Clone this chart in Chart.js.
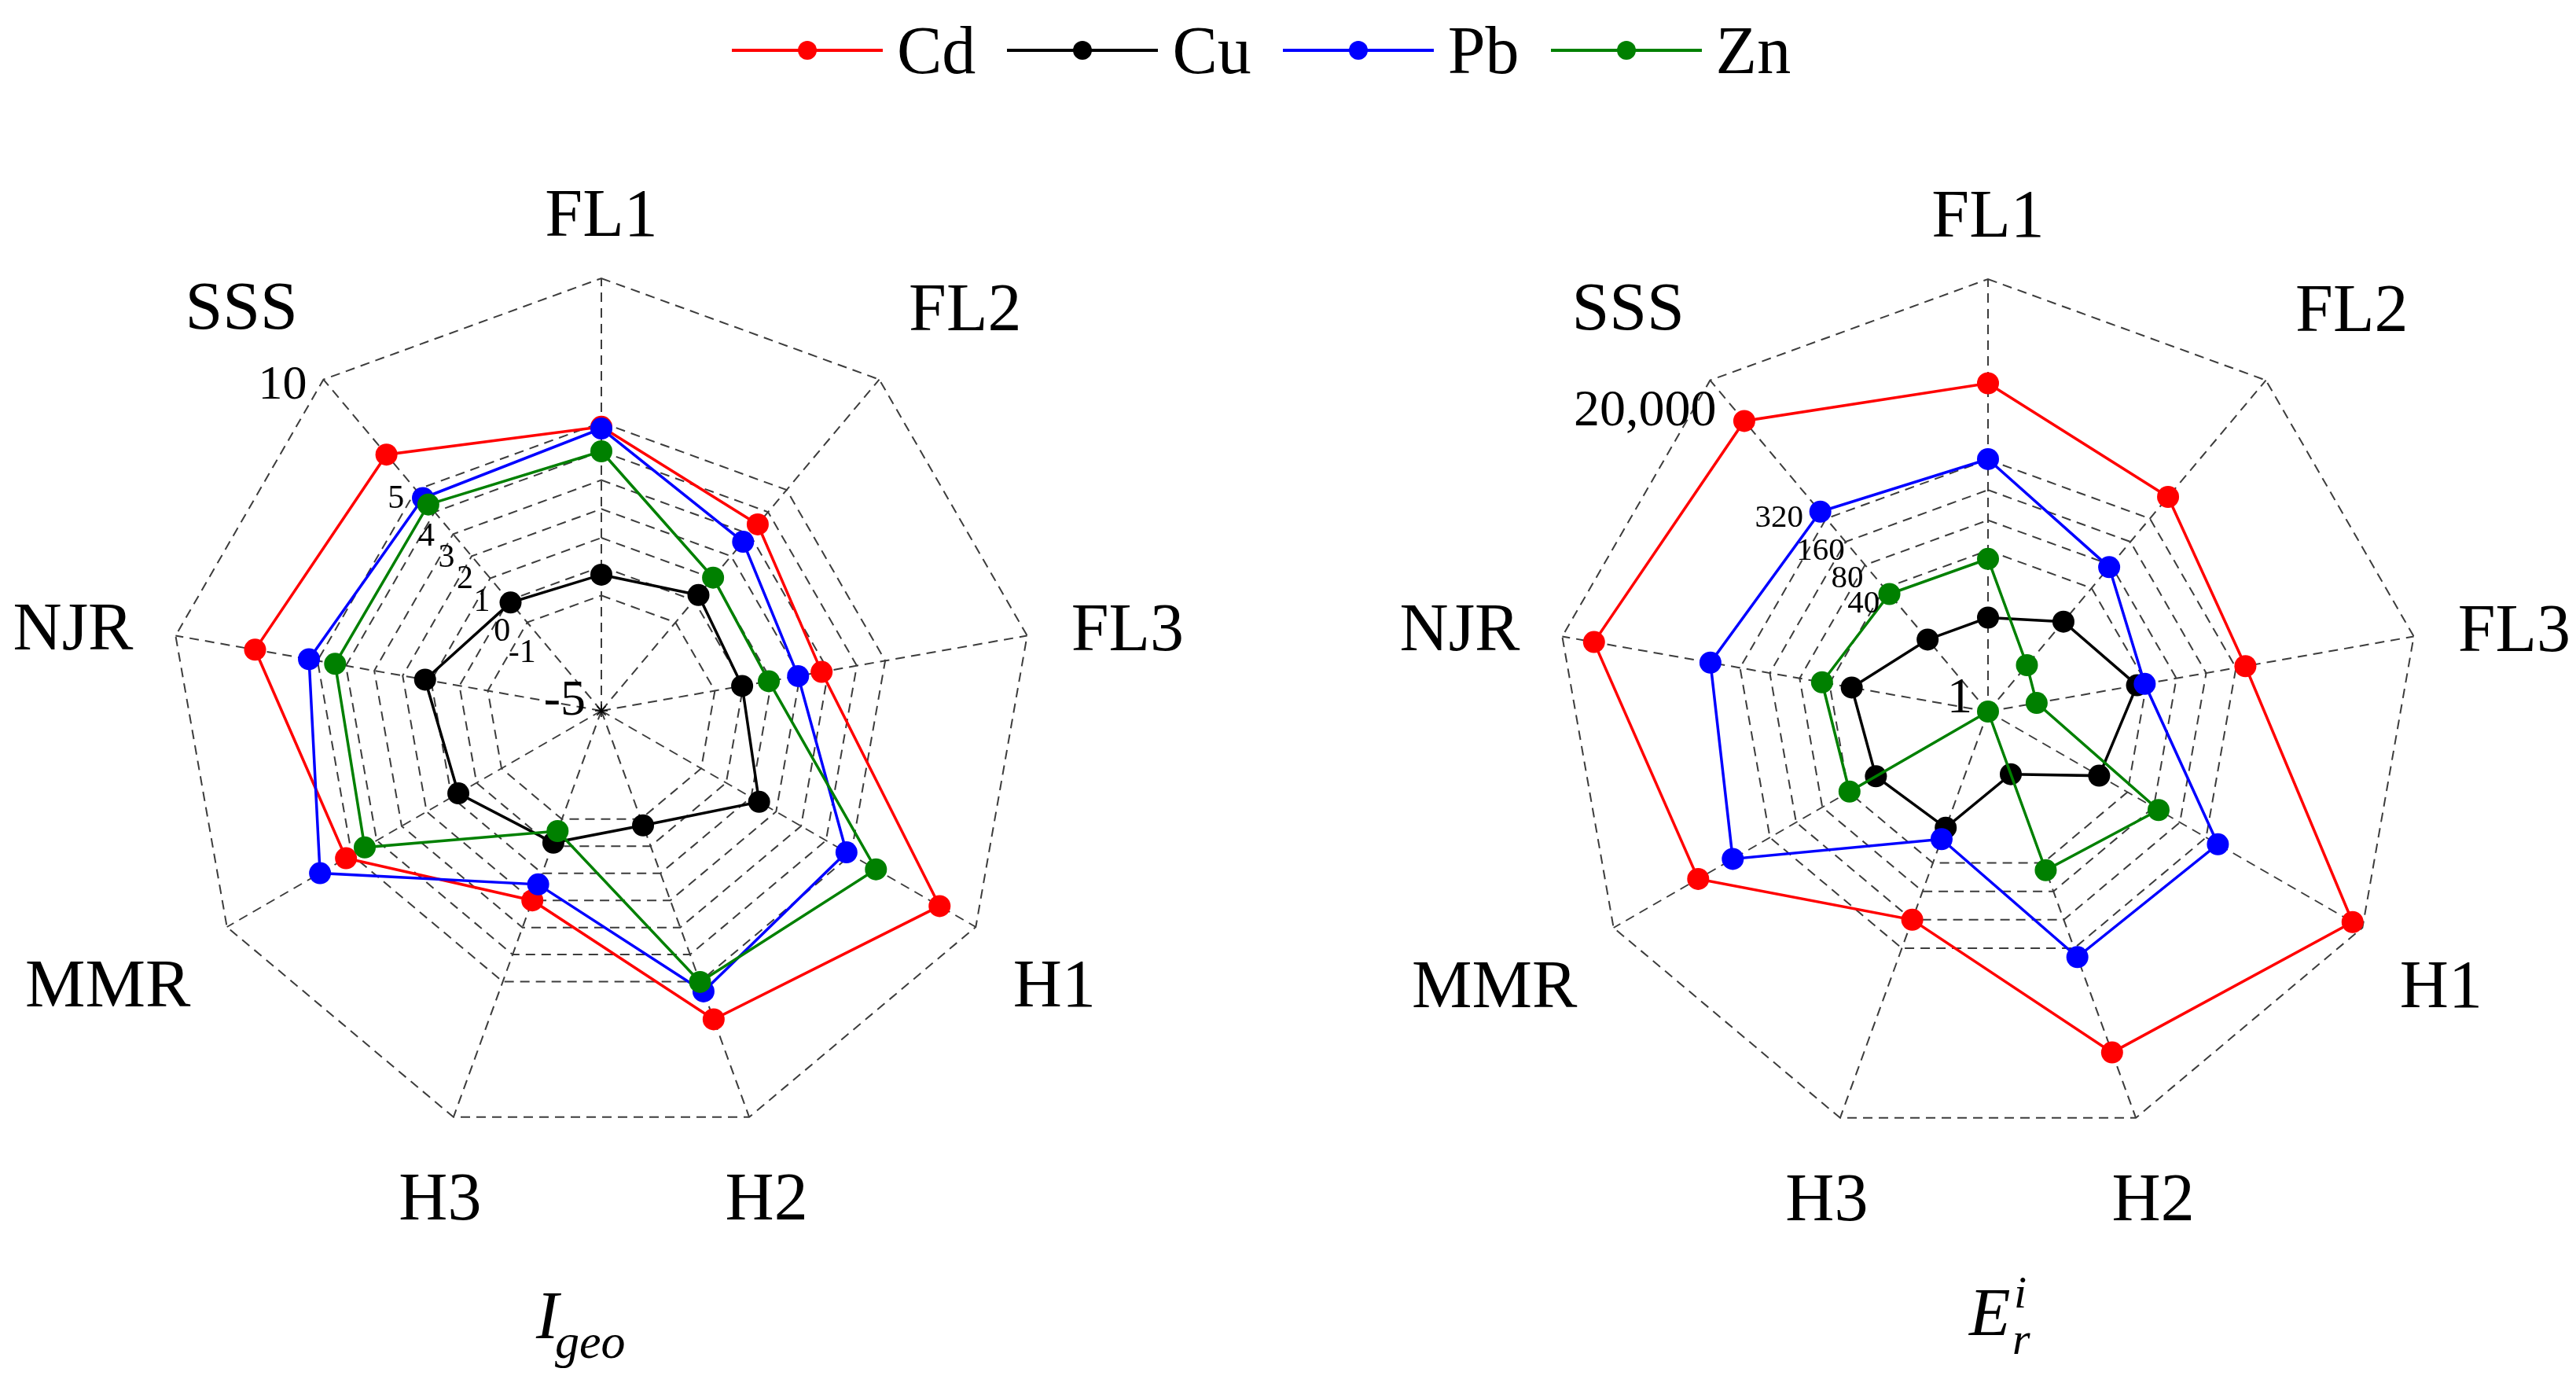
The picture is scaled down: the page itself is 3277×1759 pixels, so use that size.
<!DOCTYPE html>
<html>
<head>
<meta charset="utf-8">
<script src="https://cdn.jsdelivr.net/npm/chart.js@4.4.1/dist/chart.umd.min.js"></script>
<style>
  body { margin: 0; background: #fff; }
  #page { position: relative; width: 3277px; height: 1759px; overflow: hidden; font-family: "Liberation Serif", serif; }
  canvas { position: absolute; top: 0; }
  #legend { position: absolute; left: 931px; top: 20px; height: 88px; display: flex; align-items: center; }
  .item { display: flex; align-items: center; margin-right: 40px; }
  .line { position: relative; width: 192px; height: 4px; margin-right: 18px; }
  .dot { position: absolute; left: 84px; top: -10px; width: 24px; height: 24px; border-radius: 50%; }
  .txt { font-size: 86px; line-height: 88px; color: #000; }
</style>
</head>
<body>
<div id="page">
  <div id="legend"></div>
  <canvas id="igeo" width="1640" height="1759" style="left:0"></canvas>
  <canvas id="er" width="1637" height="1759" style="left:1640px"></canvas>
</div>
<script>
document.addEventListener('DOMContentLoaded', function () {
  // sites, clockwise from the top
  const categories = ['FL1', 'FL2', 'FL3', 'H1', 'H2', 'H3', 'MMR', 'NJR', 'SSS'];
  const seriesNames = ['Cd', 'Cu', 'Pb', 'Zn'];
  const seriesColors = ['#ff0000', '#000000', '#0000ff', '#008000'];

  // ---------------- Igeo (left) ----------------
  const igeoCd = [4.85, 3.44, 2.76, 8.55, 6.39, 2.0, 5.23, 7.2, 6.6];
  const igeoCu = [-0.28, 0.24, -0.04, 1.32, -0.77, -0.13, 0.73, 1.21, -0.1];
  const igeoPb = [4.79, 2.65, 1.93, 4.82, 5.36, 1.41, 6.27, 5.3, 4.63];
  const igeoZn = [4.0, 1.03, 0.9, 6.0, 5.01, -0.56, 4.48, 4.38, 4.34];
  const igeoTicks = [-5, -1, 0, 1, 2, 3, 4, 5, 10];
  const igeoTickLabels = ['-5', '-1', '0', '1', '2', '3', '4', '5', '10'];

  // ---------------- Er (right, log radial) ----------------
  const erCd = [1840, 612, 398, 15400, 4060, 160, 2135, 9550, 5920];
  const erCu = [8.6, 14.7, 32, 18.9, 4.6, 17, 19.4, 23.8, 8.6];
  const erPb = [324, 75, 38.3, 437, 397, 22.4, 855, 637, 394];
  const erZn = [33, 4.0, 3.1, 91, 47.8, 1, 39, 47.5, 33.6];
  const erTicks = [1, 40, 80, 160, 320, 20000];
  const erTickLabels = ['1', '40', '80', '160', '320', '20,000'];

  // legend
  const legend = document.getElementById('legend');
  seriesNames.forEach((name, i) => {
    const item = document.createElement('div');
    item.className = 'item';
    item.innerHTML = '<span class="line" style="background:' + seriesColors[i] + '">' +
      '<span class="dot" style="background:' + seriesColors[i] + '"></span></span>' +
      '<span class="txt">' + name + '</span>';
    legend.appendChild(item);
  });

  // small nudges for the site names (x, y)
  const labelNudge = [[0, 15], [25, 15], [-8, 20], [-6, 17], [-15, 6], [20, 6], [-6, -6], [10, 20], [-20, 13]];

  // tick label placement next to the SSS axis (offsets from the ring vertex)
  const igeoTickStyle = {
    '-5': { size: 64, dx: -20, dy: -12 },
    '-1': { size: 42, dx: 11, dy: 39 },
    '0': { size: 42, dx: 2, dy: 40 },
    '1': { size: 42, dx: 0, dy: 30 },
    '2': { size: 42, dx: 2, dy: 30 },
    '3': { size: 42, dx: 2, dy: 31 },
    '4': { size: 42, dx: 0, dy: 32 },
    '5': { size: 42, dx: -15, dy: 12 },
    '10': { size: 62, dx: -21, dy: 8 }
  };
  const erTickStyle = {
    '1': { size: 64, dx: -20, dy: -16 },
    '40': { size: 41, dx: -6, dy: 20 },
    '80': { size: 41, dx: -2, dy: 18 },
    '160': { size: 41, dx: -1, dy: 12 },
    '320': { size: 41, dx: -29, dy: 0 },
    '20,000': { size: 66, dx: 8, dy: 40 }
  };

  const radarText = {
    id: 'radarText',
    afterDraw(chart, args, opts) {
      const ctx = chart.ctx;
      const s = chart.scales.r;
      ctx.save();
      ctx.fillStyle = '#000';
      // site names
      ctx.font = '86px "Liberation Serif"';
      ctx.textAlign = 'center';
      ctx.textBaseline = 'middle';
      chart.data.labels.forEach((lab, i) => {
        const w = ctx.measureText(lab).width;
        const a = s.getIndexAngle(i) - Math.PI / 2;
        const d = s.drawingArea + 62 + Math.abs(Math.cos(a)) * w / 2 + Math.abs(Math.sin(a)) * 30;
        const p = s.getPointPosition(i, d);
        ctx.fillText(lab, p.x + labelNudge[i][0], p.y + labelNudge[i][1]);
      });
      // ring values along the SSS axis
      ctx.textAlign = 'right';
      opts.ticks.forEach((v, i) => {
        const txt = opts.tickLabels[i];
        const st = opts.tickStyle[txt];
        const p = s.getPointPosition(8, s.getDistanceFromCenterForValue(opts.toScale(v)));
        ctx.font = st.size + 'px "Liberation Serif"';
        ctx.fillText(txt, p.x + st.dx, p.y + st.dy);
      });
      // centre star
      if (opts.star) {
        ctx.strokeStyle = '#000';
        ctx.lineWidth = 1.5;
        for (let k = 0; k < 4; k++) {
          const a = k * Math.PI / 4;
          ctx.beginPath();
          ctx.moveTo(s.xCenter - 8 * Math.cos(a), s.yCenter - 8 * Math.sin(a));
          ctx.lineTo(s.xCenter + 8 * Math.cos(a), s.yCenter + 8 * Math.sin(a));
          ctx.stroke();
        }
      }
      // axis title (italic with sub/superscripts)
      ctx.textAlign = 'left';
      ctx.textBaseline = 'alphabetic';
      opts.title.forEach(t => {
        ctx.font = 'italic ' + t.size + 'px "Liberation Serif"';
        ctx.fillText(t.text, s.xCenter + t.dx, s.yCenter + t.dy);
      });
      ctx.restore();
    }
  };

  function makeDatasets(series, tf) {
    return series.map((vals, i) => ({
      label: seriesNames[i],
      data: vals.map(tf),
      borderColor: seriesColors[i],
      backgroundColor: seriesColors[i],
      pointBackgroundColor: seriesColors[i],
      pointBorderColor: seriesColors[i],
      pointBorderWidth: 0,
      pointRadius: 14,
      borderWidth: 3.5,
      fill: false,
      tension: 0,
      order: 4 - i
    }));
  }

  function radarOptions(min, max, tickVals, padding, textOpts) {
    return {
      responsive: false,
      animation: false,
      layout: { padding: padding },
      plugins: {
        legend: { display: false },
        tooltip: { enabled: false },
        radarText: textOpts
      },
      scales: {
        r: {
          min: min,
          max: max,
          afterBuildTicks: scale => { scale.ticks = tickVals.map(v => ({ value: v })); },
          ticks: { display: false },
          pointLabels: { display: false },
          grid: { color: '#3c3c3c', lineWidth: 2 },
          border: { dash: [12, 8] },
          angleLines: { color: '#3c3c3c', lineWidth: 2, borderDash: [12, 8] }
        }
      }
    };
  }

  new Chart(document.getElementById('igeo'), {
    type: 'radar',
    data: {
      labels: categories,
      datasets: makeDatasets([igeoCd, igeoCu, igeoPb, igeoZn], v => v)
    },
    options: radarOptions(-5, 10, igeoTicks,
      { left: 215, top: 354, right: 325, bottom: 305 },
      {
        ticks: igeoTicks, tickLabels: igeoTickLabels, tickStyle: igeoTickStyle,
        toScale: v => v, star: true,
        title: [
          { text: 'I', size: 86, dx: -83, dy: 798 },
          { text: 'geo', size: 62, dx: -59, dy: 823 }
        ]
      }),
    plugins: [radarText]
  });

  new Chart(document.getElementById('er'), {
    type: 'radar',
    data: {
      labels: categories,
      datasets: makeDatasets([erCd, erCu, erPb, erZn], Math.log10)
    },
    options: radarOptions(0, Math.log10(20000), erTicks.map(Math.log10),
      { left: 339, top: 355, right: 198, bottom: 304 },
      {
        ticks: erTicks, tickLabels: erTickLabels, tickStyle: erTickStyle,
        toScale: Math.log10, star: false,
        title: [
          { text: 'E', size: 86, dx: -24, dy: 793 },
          { text: 'i', size: 58, dx: 33, dy: 758 },
          { text: 'r', size: 58, dx: 31, dy: 817 }
        ]
      }),
    plugins: [radarText]
  });
});
</script>
</body>
</html>
